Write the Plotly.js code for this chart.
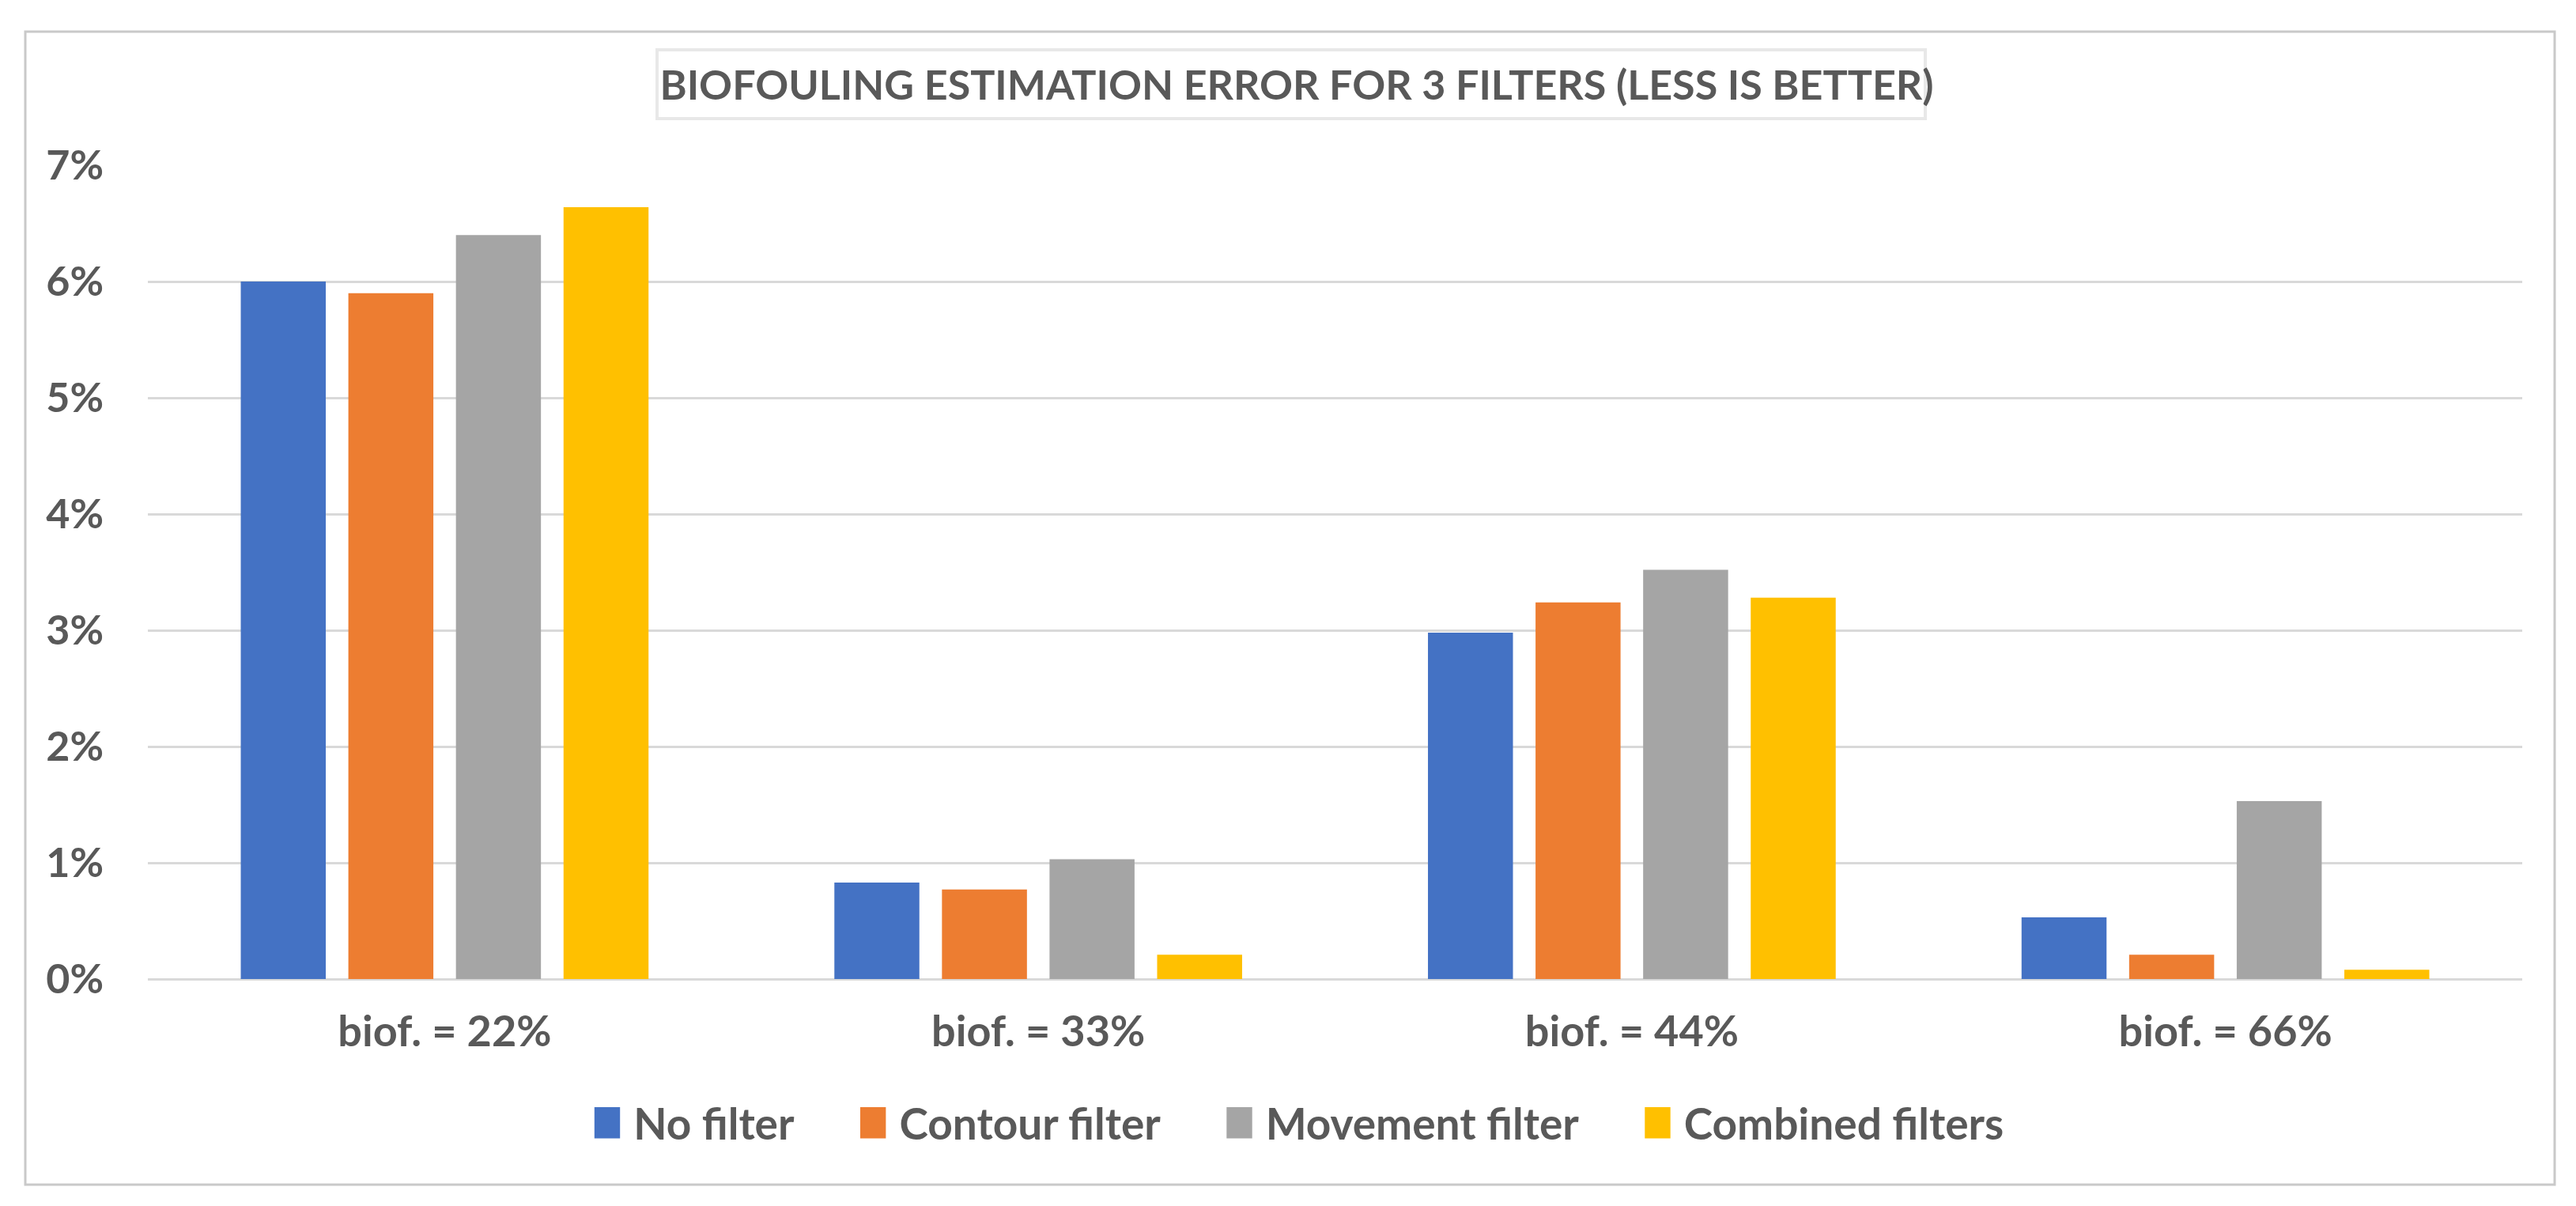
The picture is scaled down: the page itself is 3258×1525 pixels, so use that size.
<!DOCTYPE html>
<html>
<head>
<meta charset="utf-8">
<script src="https://cdn.plot.ly/plotly-3.0.1.min.js"></script>
<style>
  html, body { margin: 0; padding: 0; background: #ffffff; }
  #chart { width: 3258px; height: 1525px; }
</style>
</head>
<body>
<div id="chart"></div>
<script>
// ---- data ----
const categories = ['biof. = 22%', 'biof. = 33%', 'biof. = 44%', 'biof. = 66%'];
const seriesNames = ['No filter', 'Contour filter', 'Movement filter', 'Combined filters'];
const noFilter = [0.0600, 0.0083, 0.0298, 0.0053];
const contourFilter = [0.0590, 0.0077, 0.0324, 0.0021];
const movementFilter = [0.0640, 0.0103, 0.0352, 0.0153];
const combinedFilters = [0.0664, 0.0021, 0.0328, 0.0008];
const titleText = 'BIOFOULING ESTIMATION ERROR FOR 3 FILTERS (LESS IS BETTER)';

// ---- style ----
const colors = ['#4472C4', '#ED7D31', '#A5A5A5', '#FFC000'];
const textColor = '#595959';
const fontFamily = 'Lato, "Open Sans", sans-serif';
const W = 3258, H = 1525;
const margin = { l: 187, r: 68, t: 209, b: 287 };
const plotW = W - margin.l - margin.r;
const plotH = H - margin.t - margin.b;
const px2x = (px) => (px - margin.l) / plotW;
const px2y = (py) => (H - margin.b - py) / plotH;

const allValues = [noFilter, contourFilter, movementFilter, combinedFilters];
const traces = allValues.map((vals, i) => ({
  type: 'bar',
  name: seriesNames[i],
  x: categories,
  y: vals,
  marker: { color: colors[i], line: { width: 0 } },
  hoverinfo: 'x+y+name'
}));

const layout = {
  width: W,
  height: H,
  margin: margin,
  paper_bgcolor: '#ffffff',
  plot_bgcolor: '#ffffff',
  barmode: 'group',
  bargap: 0.275,
  bargroupgap: 0.21,
  font: { family: fontFamily, color: textColor, size: 52, weight: 'bold' },
  title: {
    text: titleText,
    font: { family: fontFamily, size: 52, color: textColor, weight: 'bold' },
    xref: 'container', x: 1640 / W, xanchor: 'center',
    yref: 'container', y: 1 - 108 / H, yanchor: 'middle'
  },
  xaxis: {
    type: 'category',
    showgrid: false,
    showline: false,
    zeroline: false,
    ticks: '',
    ticklabelstandoff: 30,
    tickfont: { family: fontFamily, size: 54, color: textColor, weight: 'bold' }
  },
  yaxis: {
    range: [0, 0.07],
    dtick: 0.01,
    tick0: 0,
    tickformat: '.0%',
    showgrid: true,
    gridcolor: '#D9D9D9',
    gridwidth: 3,
    zeroline: true,
    zerolinecolor: '#D9D9D9',
    zerolinewidth: 3,
    showline: false,
    ticks: '',
    ticklabelstandoff: 55,
    tickfont: { family: fontFamily, size: 52, color: textColor, weight: 'bold' }
  },
  showlegend: true,
  legend: {
    orientation: 'h',
    xref: 'paper', x: px2x(1643), xanchor: 'center',
    yref: 'paper', y: px2y(1420), yanchor: 'middle',
    font: { family: fontFamily, size: 55, color: textColor, weight: 'bold' },
    itemclick: false,
    traceorder: 'normal',
    bgcolor: 'rgba(0,0,0,0)'
  },
  shapes: [
    { // outer chart border
      type: 'rect', xref: 'paper', yref: 'paper', layer: 'below',
      x0: px2x(32), x1: px2x(3231), y0: px2y(1498), y1: px2y(40),
      line: { color: '#C9C9C9', width: 3 }, fillcolor: 'rgba(0,0,0,0)'
    },
    { // title box
      type: 'rect', xref: 'paper', yref: 'paper', layer: 'below',
      x0: px2x(831), x1: px2x(2435), y0: px2y(150), y1: px2y(63),
      line: { color: '#E8E8E8', width: 4 }, fillcolor: '#ffffff'
    }
  ]
};

// legend item geometry (pixels) seen in the reference
const swatchTextGap = 17;
const entryGap = 83;
const legendCenterX = 1643;

Plotly.newPlot('chart', traces, layout, { staticPlot: true, displayModeBar: false }).then(() => {
  // let the legend entries extend beyond Plotly's own legend clip box
  document.querySelectorAll('.legend .scrollbox, .legend [clip-path]').forEach(el => {
    el.removeAttribute('clip-path');
  });
  const items = Array.from(document.querySelectorAll('.legend .traces'));
  // 1) enlarge swatches into tall rectangles
  items.forEach(g => {
    const p = g.querySelector('.legendpoints path');
    if (p) p.setAttribute('transform', 'scale(2.7,3.3)');
  });
  // 2) put each swatch just before its text
  const widths = [];
  const lefts = [];
  items.forEach(g => {
    const p = g.querySelector('.legendpoints path');
    const t = g.querySelector('text.legendtext');
    if (!p || !t) { widths.push(0); lefts.push(0); return; }
    const pr = p.getBoundingClientRect();
    const tr = t.getBoundingClientRect();
    const dx = (tr.left - swatchTextGap) - pr.right;
    p.setAttribute('transform', 'translate(' + dx + ',0) scale(2.7,3.3)');
    const newLeft = pr.left + dx;
    lefts.push(newLeft);
    widths.push(tr.right - newLeft);
  });
  // 3) space the entries and centre the row
  const total = widths.reduce((a, b) => a + b, 0) + entryGap * (items.length - 1);
  let cursor = legendCenterX - total / 2;
  items.forEach((g, i) => {
    const shift = cursor - lefts[i];
    const tf = g.getAttribute('transform') || 'translate(0,0)';
    const m = tf.match(/translate\(\s*([-\d.eE]+)[ ,]+([-\d.eE]+)\s*\)/);
    const x0 = m ? parseFloat(m[1]) : 0;
    const y0 = m ? parseFloat(m[2]) : 0;
    g.setAttribute('transform', 'translate(' + (x0 + shift) + ',' + y0 + ')');
    cursor += widths[i] + entryGap;
  });
});
</script>
</body>
</html>
